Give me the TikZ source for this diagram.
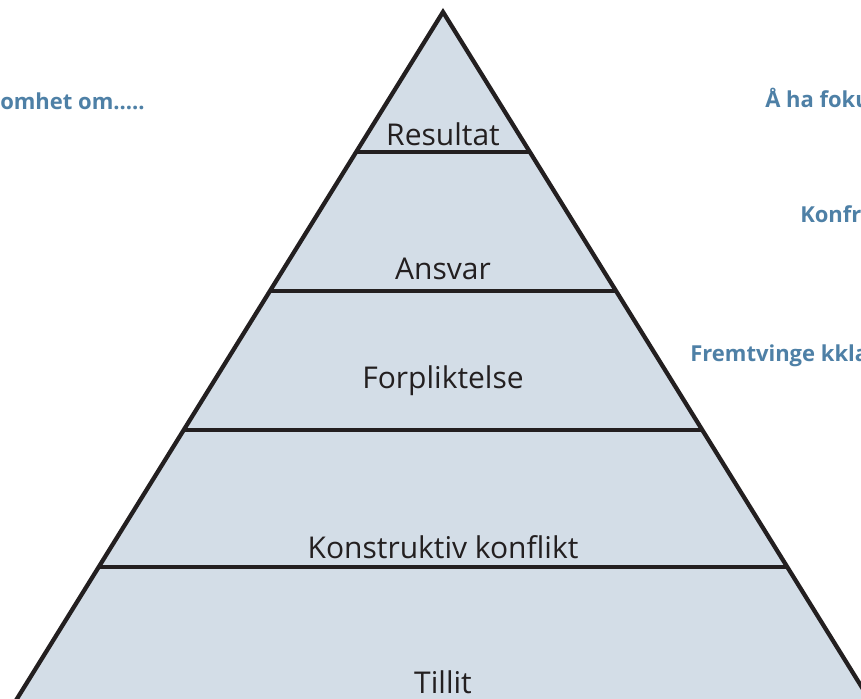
\documentclass[tikz,border=0pt]{standalone}
\usepackage{fontspec}
\setmainfont{Open Sans}
\usetikzlibrary{calc}
\definecolor{pyrfill}{HTML}{D3DDE7}
\definecolor{sideblue}{HTML}{4E80A6}
\definecolor{edge}{HTML}{231F20}
\begin{document}
\begin{tikzpicture}[x=0.75pt,y=-0.75pt,
  outline/.style={draw=edge,line width=3.2pt,line join=miter},
  divider/.style={draw=edge,line width=3.2pt},
  tierlabel/.style={font=\fontsize{22.5}{26}\selectfont,text=edge,inner sep=0pt},
  sidetext/.style={font=\bfseries\fontsize{16.5}{19}\selectfont,text=sideblue,inner sep=0pt,anchor=base west}]
\useasboundingbox (0,0) rectangle (861,699);
\coordinate (apex) at (443,12);
\coordinate (bl) at (-21,760);
\coordinate (br) at (907,760);
\begin{scope}
\clip (0,0) rectangle (861,699);
\fill[pyrfill] (apex) -- (bl) -- (br) -- cycle;
\foreach \n/\t in {a/0.18717,b/0.37299,c/0.55882,d/0.74198}{
  \coordinate (\n L) at ($(apex)!\t!(bl)$);
  \coordinate (\n R) at ($(apex)!\t!(br)$);
}
\draw[divider] (aL) -- (aR);
\draw[divider] (bL) -- (bR);
\draw[divider] (cL) -- (cR);
\draw[divider] (dL) -- (dR);
\draw[outline] (bl) -- (apex) -- (br);
\end{scope}
\node[tierlabel] (resultat) at (443,134) {Resultat};
\node[tierlabel] (ansvar) at (443,269) {Ansvar};
\node[tierlabel] (forpl) at (443,381) {Forpliktelse};
\node[tierlabel] (konfl) at (443,547) {Konstruktiv konflikt};
\node[tierlabel] (tillit) at (443,682) {Tillit};
\node[sidetext] (oppm) at (0,110) {omhet om.....};
\node[sidetext] (fokus) at (765,108) {Å ha foku};
\node[sidetext] (konfr) at (800,222) {Konfr};
\node[sidetext] (fremt) at (690,361) {Fremtvinge kkla};
\end{tikzpicture}
\end{document}
